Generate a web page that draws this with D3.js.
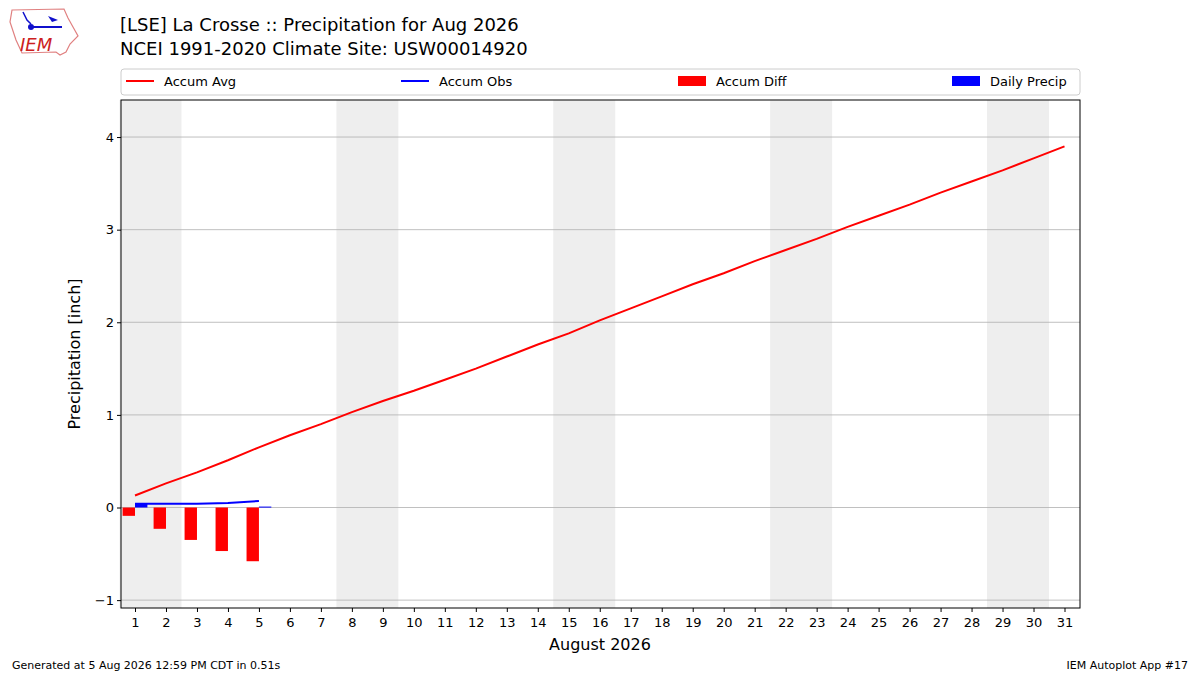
<!DOCTYPE html>
<html><head><meta charset="utf-8"><script src="https://d3js.org/d3.v7.min.js"></script>
<style>body{margin:0;background:#fff}text{font-family:"DejaVu Sans",sans-serif}</style></head>
<body><svg id="c" width="1200" height="675"></svg>
<script>
const days = d3.range(1,32);
const accumAvg = [0.13,0.26,0.38,0.51,0.65,0.78,0.90,1.03,1.15,1.26,1.38,1.50,1.63,1.76,1.88,2.02,2.15,2.28,2.41,2.53,2.66,2.78,2.90,3.03,3.15,3.27,3.40,3.52,3.64,3.77,3.90];
const accumObs = [0.04,0.04,0.04,0.05,0.07];
const accumDiff = [-0.09,-0.23,-0.35,-0.47,-0.58];
const dailyPrecip = [0.04,0,0,0,0.01];
const weekends = [[0.5,2.5],[7.5,9.5],[14.5,16.5],[21.5,23.5],[28.5,30.5]];
const yTicks = [-1,0,1,2,3,4];

const svg = d3.select("#c");
const L=121,R=1080,T=100,B=608;
const x = d3.scaleLinear().domain([0.548,31.5]).range([L,R]);
const y = d3.scaleLinear().domain([-1.085,4.40]).range([B,T]);

svg.selectAll(".we").data(weekends).enter().append("rect")
 .attr("x",d=>x(d[0])).attr("width",d=>x(d[1])-x(d[0]))
 .attr("y",T).attr("height",B-T).attr("fill","#eeeeee");
svg.selectAll(".gl").data(yTicks).enter().append("line")
 .attr("x1",L).attr("x2",R).attr("y1",d=>y(d)).attr("y2",d=>y(d))
 .attr("stroke","#b0b0b0").attr("stroke-width",0.8);

svg.selectAll(".diff").data(accumDiff).enter().append("rect")
 .attr("x",(d,i)=>x(i+1-0.4)).attr("width",x(1.4)-x(1))
 .attr("y",d=>y(Math.max(0,d))).attr("height",d=>Math.abs(y(d)-y(0)))
 .attr("fill","red");
svg.selectAll(".dp").data(dailyPrecip.map((v,i)=>({v,i})).filter(d=>d.v>0)).enter().append("rect")
 .attr("x",d=>x(d.i+1)).attr("width",x(1.4)-x(1))
 .attr("y",d=>y(d.v)).attr("height",d=>Math.max(1,y(0)-y(d.v)))
 .attr("fill","blue");

const line = d3.line().x((d,i)=>x(i+1)).y(d=>y(d));
svg.append("path").attr("d",line(accumAvg)).attr("fill","none").attr("stroke","red").attr("stroke-width",2);
svg.append("path").attr("d",line(accumObs)).attr("fill","none").attr("stroke","blue").attr("stroke-width",2);

svg.append("rect").attr("x",L).attr("y",T).attr("width",R-L).attr("height",B-T).attr("fill","none").attr("stroke","#000").attr("stroke-width",1);

const xa = svg.append("g").attr("transform",`translate(0,${B})`).call(d3.axisBottom(x).tickValues(days).tickFormat(d3.format("d")).tickSizeOuter(0).tickSize(4));
xa.select(".domain").remove();
xa.selectAll("text").attr("font-size",13).attr("dy","0.9em").attr("fill","#000");
const ya = svg.append("g").attr("transform",`translate(${L},0)`).call(d3.axisLeft(y).tickValues(yTicks).tickFormat(d=>d<0?"\u2212"+(-d):d).tickSize(4));
ya.select(".domain").remove();
ya.selectAll("text").attr("font-size",13).attr("fill","#000");

svg.append("text").attr("x",600).attr("y",650).attr("text-anchor","middle").attr("font-size",16).text("August 2026");
svg.append("text").attr("transform","translate(80,354) rotate(-90)").attr("text-anchor","middle").attr("font-size",16).text("Precipitation [inch]");

svg.append("text").attr("x",120).attr("y",31).attr("font-size",18).text("[LSE] La Crosse :: Precipitation for Aug 2026");
svg.append("text").attr("x",120).attr("y",55).attr("font-size",18).text("NCEI 1991-2020 Climate Site: USW00014920");

svg.append("rect").attr("x",L).attr("y",69).attr("width",R-L).attr("height",26).attr("fill","#fff").attr("stroke","#ccc").attr("rx",3);
const leg = [{n:"Accum Avg",c:"red",t:"l",x:126},{n:"Accum Obs",c:"blue",t:"l",x:401},{n:"Accum Diff",c:"red",t:"b",x:678},{n:"Daily Precip",c:"blue",t:"b",x:952}];
leg.forEach(d=>{
 if(d.t==="l") svg.append("line").attr("x1",d.x).attr("x2",d.x+28).attr("y1",81).attr("y2",81).attr("stroke",d.c).attr("stroke-width",2);
 else svg.append("rect").attr("x",d.x).attr("y",76).attr("width",28).attr("height",10).attr("fill",d.c);
 svg.append("text").attr("x",d.x+38).attr("y",86).attr("font-size",13).text(d.n);
});

svg.append("text").attr("x",12).attr("y",669).attr("font-size",11).text("Generated at 5 Aug 2026 12:59 PM CDT in 0.51s");
svg.append("text").attr("x",1188).attr("y",669).attr("text-anchor","end").attr("font-size",11).text("IEM Autoplot App #17");

const lg = svg.append("g");
lg.append("path").attr("d","M12,10 L64,9 L68,18 L73,27 L78,36 L70,44 L66,52 L60,55 L56,52 L22,53 L16,40 L10,22 Z").attr("fill","none").attr("stroke","#e08080").attr("stroke-width",1.2);
lg.append("text").attr("x",20).attr("y",51).attr("font-size",18).attr("font-style","italic").attr("font-family","Liberation Serif").attr("fill","#cc2020").text("IEM");
lg.append("line").attr("x1",30).attr("x2",62).attr("y1",27).attr("y2",27).attr("stroke","#1010cc").attr("stroke-width",2);
lg.append("circle").attr("cx",31).attr("cy",27).attr("r",3).attr("fill","#1010cc");
lg.append("path").attr("d","M48,16 L58,20 L52,22 Z").attr("fill","#1010cc");
lg.append("path").attr("d","M23,12 L27,20 L31,24").attr("fill","none").attr("stroke","#1010cc").attr("stroke-width",1.5);
</script></body></html>
